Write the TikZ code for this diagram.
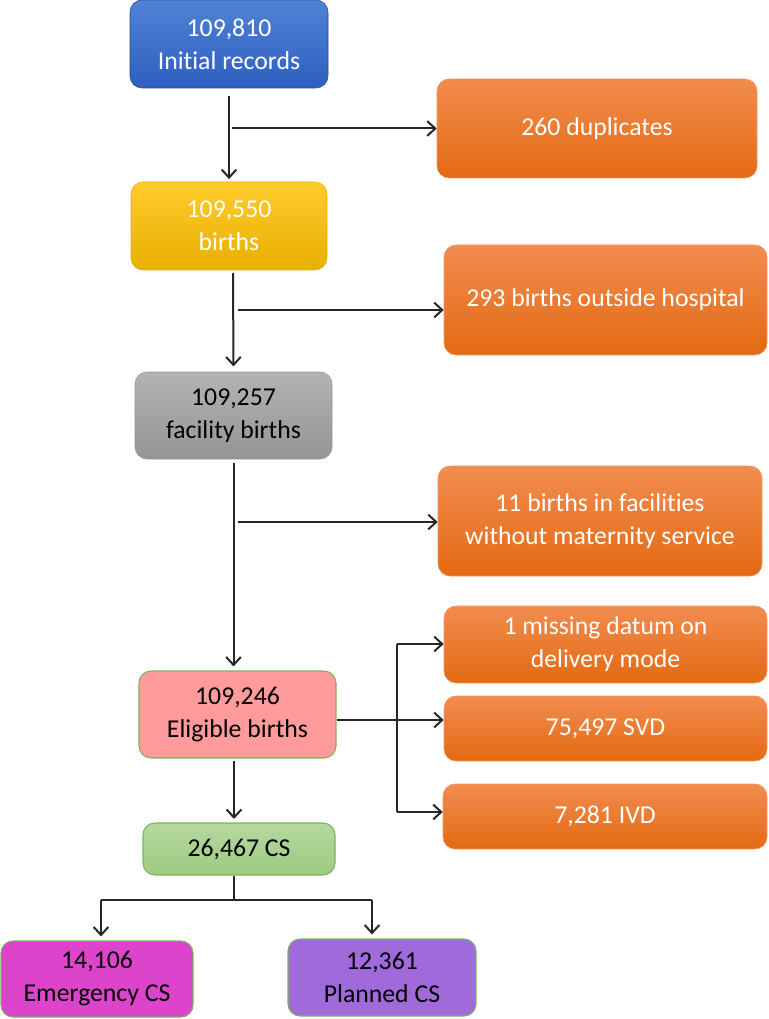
\documentclass[tikz,border=0pt]{standalone}
\usepackage{fontspec}
\setmainfont[RawFeature=-liga]{Carlito}
\usetikzlibrary{arrows.meta,calc}
\definecolor{bluetop}{HTML}{5082D6}
\definecolor{bluebot}{HTML}{2F5FBF}
\definecolor{yeltop}{HTML}{FFCA2E}
\definecolor{yelbot}{HTML}{E8B000}
\definecolor{greytop}{HTML}{B3B3B3}
\definecolor{greybot}{HTML}{959595}
\definecolor{ortop}{HTML}{F28C50}
\definecolor{orbot}{HTML}{E36A12}
\definecolor{pinkfill}{HTML}{FF9B9B}
\definecolor{greenline}{HTML}{7AB55C}
\definecolor{greentop}{HTML}{B5D8A0}
\definecolor{greenbot}{HTML}{9DCB82}
\definecolor{magfill}{HTML}{DD44CC}
\definecolor{purfill}{HTML}{A06ADB}
\tikzset{
  box/.style={rounded corners=9pt, inner sep=2pt, align=center,
    font=\fontsize{19.3}{24.75}\selectfont},
  bluebox/.style={box, top color=bluetop, bottom color=bluebot, draw=bluebot!80!black, text=white},
  yelbox/.style={box, top color=yeltop, bottom color=yelbot, draw=yelbot, text=white},
  greybox/.style={box, top color=greytop, bottom color=greybot, draw=greybot, text=black},
  orbox/.style={box, top color=ortop, bottom color=orbot, draw=ortop!90!white, text=white},
  pinkbox/.style={box, fill=pinkfill, draw=greenline, line width=0.8pt, text=black},
  greenbox/.style={box, top color=greentop, bottom color=greenbot, draw=greenline, line width=0.8pt, text=black},
  magbox/.style={box, fill=magfill, draw=greenline, line width=0.8pt, text=black},
  purbox/.style={box, fill=purfill, draw=greenline, line width=0.8pt, text=black},
  arr/.style={draw=black!85, line width=1.5pt, -{Straight Barb[length=6pt,width=11pt,line width=1.5pt]}},
  ln/.style={draw=black!85, line width=1.5pt}
}
\begin{document}
\begin{tikzpicture}[x=0.75pt,y=-0.75pt]
\useasboundingbox (0,0) rectangle (768,1019);
\node[bluebox, minimum width=148.5pt, minimum height=66pt] (init) at (229,44) {109,810\\Initial records};
\node[orbox, minimum width=240pt, minimum height=74.25pt] (dup) at (597,128.5) {260 duplicates};
\node[yelbox, minimum width=147pt, minimum height=66pt] (births) at (229,226) {109,550\\births};
\node[orbox, minimum width=242.25pt, minimum height=82.5pt] (outside) at (605.5,300) {293 births outside hospital};
\node[greybox, minimum width=147.75pt, minimum height=65.25pt] (fac) at (233.5,415.5) {109,257\\facility births};
\node[orbox, minimum width=243pt, minimum height=82.5pt] (nomat) at (600,521) {11 births in facilities\\without maternity service};
\node[pinkbox, minimum width=147.75pt, minimum height=65.25pt] (elig) at (237.5,714.5) {109,246\\Eligible births};
\node[orbox, minimum width=242.25pt, minimum height=57.75pt] (miss) at (605.5,644.5) {1 missing datum on\\delivery mode};
\node[orbox, minimum width=242.25pt, minimum height=48.75pt] (svd) at (605.5,728.5) {75,497 SVD};
\node[orbox, minimum width=243pt, minimum height=48.75pt] (ivd) at (605,816.5) {7,281 IVD};
\node[greenbox, minimum width=144pt, minimum height=39pt] (cs) at (239,849) {26,467 CS};
\node[magbox, minimum width=144pt, minimum height=57pt] (emer) at (97,979) {14,106\\Emergency CS};
\node[purbox, minimum width=141pt, minimum height=57.75pt] (plan) at (382,977.5) {12,361\\Planned CS};
% connectors
\draw[arr, shorten <=6pt, shorten >=2pt] (init.south) -- (births.north);
\coordinate (b1) at (232,128.5);
\draw[arr] (b1) -- (dup.west);
\draw[arr, shorten <=2pt, shorten >=4pt] (births.south -| 233,0) -- (fac.north);
\coordinate (b2) at (238,310);
\draw[arr] (b2) -- (b2 -| outside.west);
\draw[arr, shorten <=3pt, shorten >=3pt] (fac.south) -- (fac.south |- elig.north);
\coordinate (b3) at (238,522);
\draw[arr] (b3) -- (b3 -| nomat.west);
\coordinate (br) at (397,720);
\draw[arr] (elig.east |- br) -- (br -| svd.west);
\coordinate (brt) at (397,644);
\coordinate (brb) at (397,812);
\draw[ln] (brt) -- (brb);
\draw[arr] (brt) -- (brt -| miss.west);
\draw[arr] (brb) -- (brb -| ivd.west);
\draw[arr, shorten <=2pt, shorten >=3pt] (elig.south -| 234,0) -- (234,823);
\coordinate (sp) at (234,900);
\coordinate (spl) at (101,900);
\coordinate (spr) at (372,900);
\draw[ln] (cs.south -| sp) -- (sp);
\draw[ln] (spl) -- (spr);
\draw[arr, shorten >=3pt] (spl) -- (spl |- emer.north);
\draw[arr, shorten >=3pt] (spr) -- (spr |- plan.north);
\end{tikzpicture}
\end{document}
